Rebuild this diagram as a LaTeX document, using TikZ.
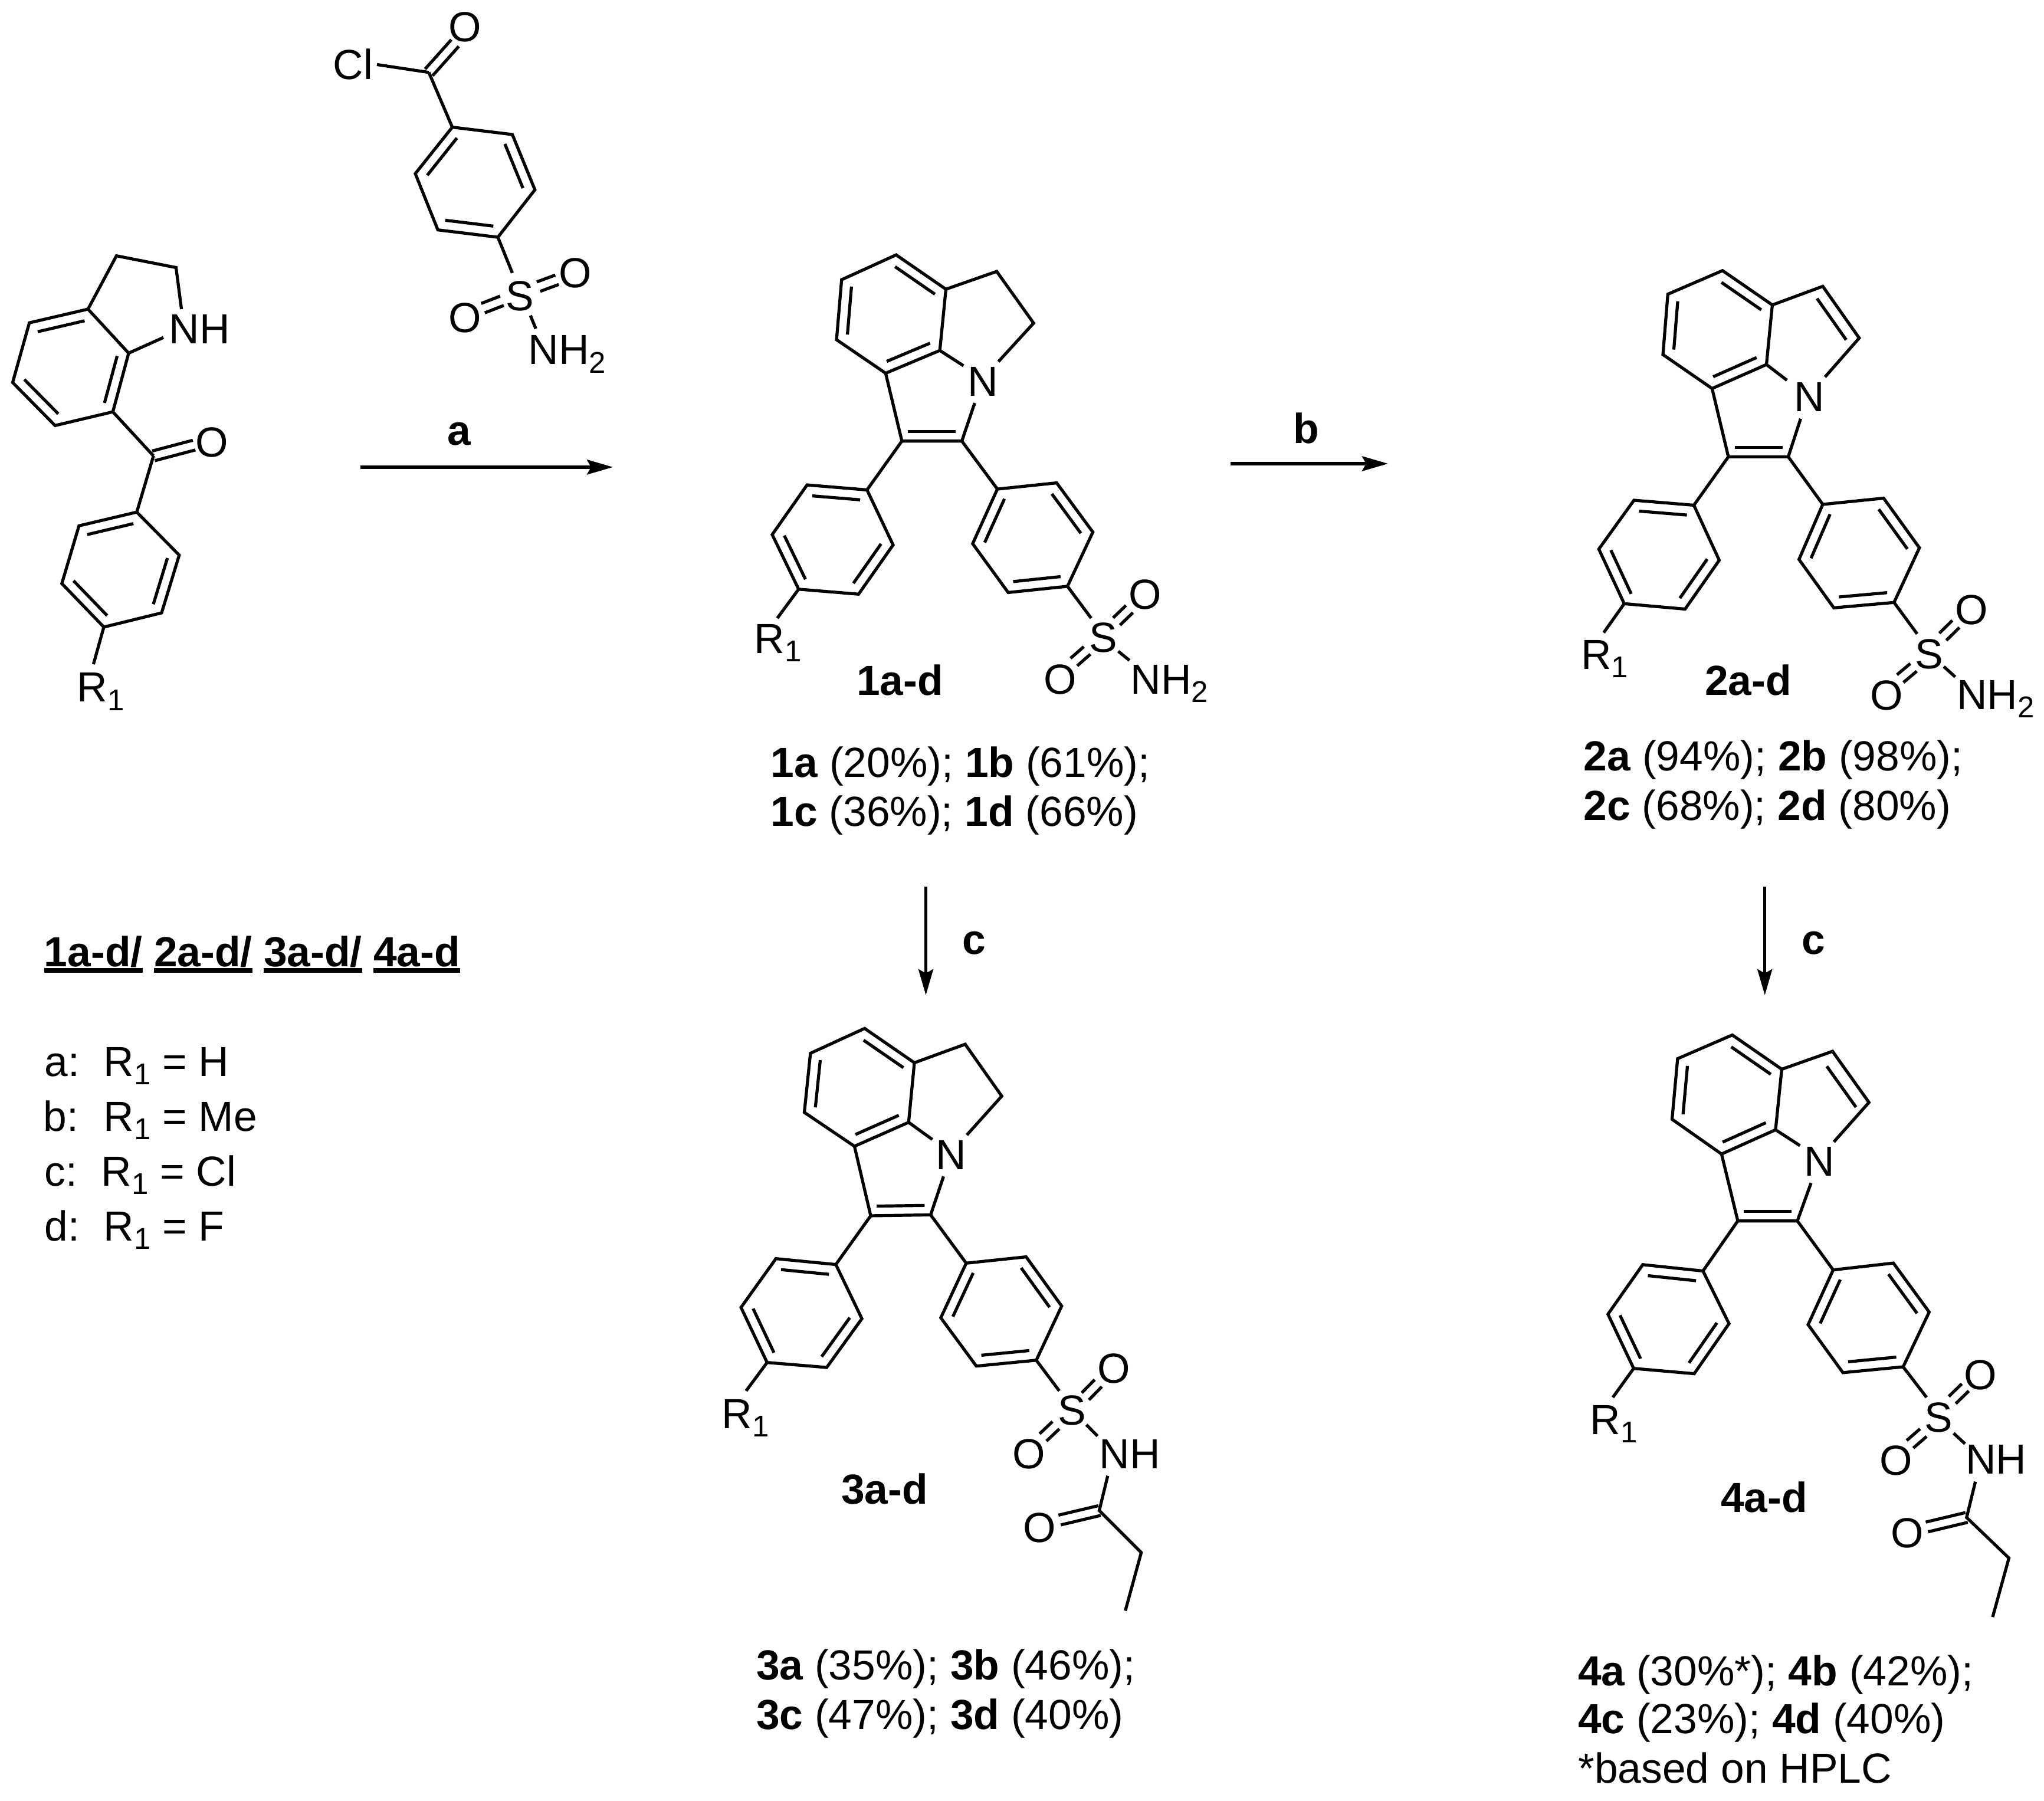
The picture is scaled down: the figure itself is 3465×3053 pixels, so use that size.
\documentclass[tikz,border=0pt]{standalone}
\usepackage{fontspec}
\setmainfont{Liberation Sans}
\usetikzlibrary{calc,arrows.meta}
\tikzset{
  bond/.style={line width=0.52mm,line join=miter,line cap=butt},
  rarrow/.style={line width=0.55mm,-{Stealth[length=4.4mm,width=2.5mm,inset=0.7mm]}},
  ulinebar/.style={line width=0.76mm},
  lb/.style={anchor=base west,inner sep=0pt,outer sep=0pt,xshift=-0.55mm,font=\fontsize{20.3}{24.4}\selectfont},
  hd/.style={anchor=base west,inner sep=0pt,outer sep=0pt,font=\fontsize{20.3}{24.4}\selectfont\bfseries},
  ctr/.style={anchor=center,inner sep=0pt,outer sep=0pt,font=\fontsize{20.3}{24.4}\selectfont},
  ctrb/.style={anchor=base,inner sep=0pt,outer sep=0pt,font=\fontsize{20.3}{24.4}\selectfont\bfseries},
}
\newcommand\sbs[1]{\raisebox{-4.1pt}{\fontsize{14.5}{15}\selectfont #1}}
% six-ring: name and vertices; double bonds a-b, c-d, e-f
\newcommand\sixring[7]{%
  \coordinate (#1a) at #2; \coordinate (#1b) at #3; \coordinate (#1c) at #4;
  \coordinate (#1d) at #5; \coordinate (#1e) at #6; \coordinate (#1f) at #7;
  \coordinate (#1o) at ($(#1a)!.5!(#1d)$);
  \draw[bond] (#1a)--(#1b)--(#1c)--(#1d)--(#1e)--(#1f)--cycle;
  \innerb{#1a}{#1b}{#1o}\innerb{#1c}{#1d}{#1o}\innerb{#1e}{#1f}{#1o}}
\newcommand\innerb[3]{\draw[bond] ($(#1)!.2!(#3)$) -- ($(#2)!.2!(#3)$);}
\newcommand\twin[3][0.85mm]{%
  \draw[bond] ($(#2)!#1!90:(#3)$) -- ($(#3)!#1!-90:(#2)$);
  \draw[bond] ($(#2)!#1!-90:(#3)$) -- ($(#3)!#1!90:(#2)$);}
\begin{document}
\begin{tikzpicture}[x=0.1mm,y=-0.1mm]
\fill[white] (0,0) rectangle (3465,3053);
\useasboundingbox (0,0) rectangle (3465,3053);

% ---------- starting materials and arrow a
\begin{scope}[shift={(0,0)},x=0.07653mm,y=-0.08291mm]
  \sixring{A}{(65,660)}{(195,632)}{(285,722)}{(250,842)}{(122,870)}{(28,782)}
  \coordinate (Ac1) at (258,523); \coordinate (Ac2) at (390,547); \coordinate (Anb) at (402,632);
  \coordinate (Anc) at (362,690);
  \draw[bond] (Ab)--(Ac1)--(Ac2)--(Anb);
  \draw[bond] (Ac)--(Anc);
  \node[lb] (ANH) at (382,703) {NH};
  \coordinate (Aco) at (340,932);
  \draw[bond] (Ad)--(Aco);
  \coordinate (Aoe) at (430,910);
  \twin{Aco}{Aoe}
  \node[ctr] (AO) at (470,905) {O};
  \sixring{B}{(303,1047)}{(175,1075)}{(137,1193)}{(230,1282)}{(358,1253)}{(397,1135)}
  \draw[bond] (Aco)--(Ba);
  \coordinate (Brr) at (207,1358);
  \draw[bond] (Bd)--(Brr);
  \node[lb] (BR) at (178,1435) {R\sbs{1}};
  % acid chloride
  \node[lb] (RCl) at (745,162) {Cl};
  \coordinate (Rcl) at (835,132); \coordinate (Rco) at (950,148); \coordinate (Roe) at (1008,88);
  \draw[bond] (Rcl)--(Rco);
  \twin{Rco}{Roe}
  \node[ctr] (RO) at (1030,55) {O};
  \sixring{R}{(920,355)}{(1002,260)}{(1135,275)}{(1185,388)}{(1103,485)}{(970,470)}
  \draw[bond] (Rco)--(Rb);
  \coordinate (Rs1) at (1135,558); \draw[bond] (Re)--(Rs1);
  \node[ctr] (RS) at (1152,605) {S};
  \coordinate (Rr1) at (1193,586); \coordinate (Rr2) at (1234,572); \twin{Rr1}{Rr2}
  \node[ctr] (RO1) at (1275,558) {O};
  \coordinate (Rl1) at (1070,630); \coordinate (Rl2) at (1112,615); \twin{Rl1}{Rl2}
  \node[ctr] (RO2) at (1030,650) {O};
  \coordinate (Rn1) at (1175,645); \coordinate (Rn2) at (1187,672); \draw[bond] (Rn1)--(Rn2);
  \node[lb] (RN) at (1178,745) {NH\sbs{2}};
  \coordinate (ar1) at (798,955); \coordinate (ar2) at (1358,955);
  \draw[rarrow] (ar1)--(ar2);
  \node[ctrb] (la) at (1017,910) {a};
\end{scope}

% ---------- compound 1
\begin{scope}[shift={(1200,350)},x=0.0574mm,y=-0.07015mm]
  \sixring{C}{(556,117)}{(703,200)}{(685,348)}{(525,403)}{(380,322)}{(395,177)}
  \coordinate (Cm1) at (853,157); \coordinate (Cm2) at (962,282); \coordinate (Cn1) at (858,375);
  \coordinate (Cn2) at (755,385); \coordinate (Cn3) at (788,475);
  \coordinate (C2) at (750,567); \coordinate (C3) at (573,567); \coordinate (Cp) at (660,450);
  \draw[bond] (Cb)--(Cm1)--(Cm2)--(Cn1);
  \draw[bond] (Cc)--(Cn2);
  \draw[bond] (Cn3)--(C2)--(C3)--(Cd);
  \innerb{C2}{C3}{Cp}
  \node[ctr] (CN) at (813,423) {N};
  \sixring{D}{(470,685)}{(293,673)}{(190,793)}{(268,925)}{(445,937)}{(547,818)}
  \sixring{E}{(782,815)}{(855,683)}{(1030,668)}{(1137,787)}{(1062,918)}{(887,933)}
  \draw[bond] (C3)--(Da); \draw[bond] (C2)--(Eb);
  \coordinate (Cs) at (1132,995); \draw[bond] (Ee)--(Cs);
  \node[ctr] (CS) at (1168,1042) {S};
  \coordinate (Ct1) at (1207,1003); \coordinate (Ct2) at (1245,973); \twin{Ct1}{Ct2}
  \node[ctr] (CO1) at (1292,938) {O};
  \coordinate (Ct3) at (1081,1101); \coordinate (Ct4) at (1120,1073); \twin{Ct3}{Ct4}
  \node[ctr] (CO2) at (1040,1143) {O};
  \coordinate (Ct5) at (1212,1075); \coordinate (Ct6) at (1245,1097); \draw[bond] (Ct5)--(Ct6);
  \node[lb] (CNH) at (1258,1178) {NH\sbs{2}};
  \coordinate (Cr) at (205,995); \draw[bond] (Dd)--(Cr);
  \node[lb] (CR) at (147,1080) {R\sbs{1}};
\end{scope}
\node[hd] (n1) at (1452,1178) {1a-d};
\node[lb] (y1a) at (1312,1317) {\textbf{1a} (20\%); \textbf{1b} (61\%);};
\node[lb] (y1b) at (1312,1400) {\textbf{1c} (36\%); \textbf{1d} (66\%)};

% ---------- compound 2
\begin{scope}[shift={(2600,350)},x=0.05517mm,y=-0.07015mm]
  \sixring{F}{(580,155)}{(733,238)}{(715,382)}{(548,440)}{(397,358)}{(412,212)}
  \coordinate (Fm1) at (888,193); \coordinate (Fm2) at (1000,318); \coordinate (Fn1) at (895,412);
  \coordinate (Fn2) at (778,420); \coordinate (Fn3) at (820,513);
  \coordinate (F2) at (782,605); \coordinate (F3) at (598,605); \coordinate (Fp) at (700,490);
  \coordinate (Fq) at (800,340);
  \draw[bond] (Fb)--(Fm1)--(Fm2)--(Fn1);
  \innerb{Fm1}{Fm2}{Fq}
  \draw[bond] (Fc)--(Fn2);
  \draw[bond] (Fn3)--(F2)--(F3)--(Fd);
  \innerb{F2}{F3}{Fp}
  \node[ctr] (FN) at (847,460) {N};
  \sixring{G}{(492,722)}{(308,710)}{(200,828)}{(278,960)}{(465,973)}{(570,855)}
  \sixring{H}{(815,853)}{(888,720)}{(1075,705)}{(1185,825)}{(1107,957)}{(922,970)}
  \draw[bond] (F3)--(Ga); \draw[bond] (F2)--(Hb);
  \coordinate (Fs) at (1178,1033); \draw[bond] (He)--(Fs);
  \node[ctr] (FS) at (1215,1082) {S};
  \coordinate (Ft1) at (1257,1040); \coordinate (Ft2) at (1297,1009); \twin{Ft1}{Ft2}
  \node[ctr] (FO1) at (1345,975) {O};
  \coordinate (Ft3) at (1126,1141); \coordinate (Ft4) at (1167,1114); \twin{Ft3}{Ft4}
  \node[ctr] (FO2) at (1085,1182) {O};
  \coordinate (Ft5) at (1260,1112); \coordinate (Ft6) at (1295,1137); \draw[bond] (Ft5)--(Ft6);
  \node[lb] (FNH) at (1310,1215) {NH\sbs{2}};
  \coordinate (Fr) at (215,1030); \draw[bond] (Gd)--(Fr);
  \node[lb] (FR) at (155,1118) {R\sbs{1}};
\end{scope}
\node[hd] (n2) at (2890,1178) {2a-d};
\node[lb] (y2a) at (2690,1306) {\textbf{2a} (94\%); \textbf{2b} (98\%);};
\node[lb] (y2b) at (2690,1390) {\textbf{2c} (68\%); \textbf{2d} (80\%)};

% ---------- compound 3
\begin{scope}[shift={(1150,1650)},x=0.0574mm,y=-0.07653mm]
  \sixring{I}{(550,122)}{(697,198)}{(680,330)}{(520,383)}{(372,308)}{(390,177)}
  \coordinate (Im1) at (847,157); \coordinate (Im2) at (955,272); \coordinate (In1) at (852,358);
  \coordinate (In2) at (750,368); \coordinate (In3) at (783,450);
  \coordinate (I2) at (745,535); \coordinate (I3) at (568,537); \coordinate (Ip) at (655,430);
  \draw[bond] (Ib)--(Im1)--(Im2)--(In1);
  \draw[bond] (Ic)--(In2);
  \draw[bond] (In3)--(I2)--(I3)--(Id);
  \innerb{I2}{I3}{Ip}
  \node[ctr] (IN) at (805,402) {N};
  \sixring{J}{(465,645)}{(288,632)}{(185,740)}{(262,862)}{(438,873)}{(542,765)}
  \sixring{K}{(775,763)}{(850,642)}{(1027,628)}{(1132,737)}{(1057,857)}{(880,870)}
  \draw[bond] (I3)--(Ja); \draw[bond] (I2)--(Kb);
  \coordinate (Is) at (1125,925); \draw[bond] (Ke)--(Is);
  \node[ctr] (IS) at (1162,968) {S};
  \coordinate (It1) at (1202,937); \coordinate (It2) at (1240,908); \twin{It1}{It2}
  \node[ctr] (IO1) at (1287,875) {O};
  \coordinate (It3) at (1077,1028); \coordinate (It4) at (1115,1001); \twin{It3}{It4}
  \node[ctr] (IO2) at (1035,1065) {O};
  \coordinate (It5) at (1205,1000); \coordinate (It6) at (1238,1025); \draw[bond] (It5)--(It6);
  \node[lb] (INH) at (1253,1097) {NH};
  \coordinate (Iu1) at (1268,1113); \coordinate (Iu2) at (1243,1190); \coordinate (Iu3) at (1126,1211);
  \coordinate (Iu4) at (1367,1283); \coordinate (Iu5) at (1320,1412);
  \draw[bond] (Iu1)--(Iu2)--(Iu4)--(Iu5);
  \coordinate (Iu6) at (1244,1190); \twin{Iu3}{Iu6}
  \node[ctr] (IO3) at (1067,1228) {O};
  \coordinate (Ir) at (200,925); \draw[bond] (Jd)--(Ir);
  \node[lb] (IR) at (138,1008) {R\sbs{1}};
\end{scope}
\node[hd] (n3) at (1426,2549) {3a-d};
\node[hd] (y3a) at (1282,2847) {3a \mdseries (35\%); \bfseries 3b \mdseries (46\%);};
\node[hd] (y3b) at (1282,2931) {3c \mdseries (47\%); \bfseries 3d \mdseries (40\%)};

% ---------- compound 4
\begin{scope}[shift={(2600,1650)},x=0.05517mm,y=-0.08929mm]
  \sixring{L}{(610,117)}{(762,182)}{(743,297)}{(577,343)}{(425,277)}{(442,162)}
  \coordinate (Lm1) at (918,148); \coordinate (Lm2) at (1030,245); \coordinate (Ln1) at (922,320);
  \coordinate (Ln2) at (818,327); \coordinate (Ln3) at (852,398);
  \coordinate (L2) at (810,470); \coordinate (L3) at (627,470); \coordinate (Lp) at (720,380);
  \coordinate (Lq) at (830,290);
  \draw[bond] (Lb)--(Lm1)--(Lm2)--(Ln1);
  \innerb{Lm1}{Lm2}{Lq}
  \draw[bond] (Lc)--(Ln2);
  \draw[bond] (Ln3)--(L2)--(L3)--(Ld);
  \innerb{L2}{L3}{Lp}
  \node[ctr] (LN) at (877,357) {N};
  \sixring{M}{(520,565)}{(335,553)}{(228,647)}{(307,750)}{(493,760)}{(600,665)}
  \sixring{P}{(843,667)}{(920,563)}{(1105,550)}{(1215,643)}{(1135,747)}{(950,758)}
  \draw[bond] (L3)--(Ma); \draw[bond] (L2)--(Pb);
  \coordinate (Ls) at (1207,805); \draw[bond] (Pe)--(Ls);
  \node[ctr] (LS) at (1243,843) {S};
  \coordinate (Lt1) at (1286,810); \coordinate (Lt2) at (1326,786); \twin{Lt1}{Lt2}
  \node[ctr] (LO1) at (1373,763) {O};
  \coordinate (Lt3) at (1156,894); \coordinate (Lt4) at (1197,872); \twin{Lt3}{Lt4}
  \node[ctr] (LO2) at (1113,925) {O};
  \coordinate (Lt5) at (1290,873); \coordinate (Lt6) at (1325,893); \draw[bond] (Lt5)--(Lt6);
  \node[lb] (LNH) at (1337,950) {NH};
  \coordinate (Lu1) at (1357,965); \coordinate (Lu2) at (1330,1033); \coordinate (Lu3) at (1208,1051);
  \coordinate (Lu4) at (1460,1110); \coordinate (Lu5) at (1410,1222);
  \draw[bond] (Lu1)--(Lu2)--(Lu4)--(Lu5);
  \twin{Lu3}{Lu2}
  \node[ctr] (LO3) at (1148,1063) {O};
  \coordinate (Lr) at (243,805); \draw[bond] (Md)--(Lr);
  \node[lb] (LR) at (183,875) {R\sbs{1}};
\end{scope}
\node[hd] (n4) at (2917,2563) {4a-d};
\node[hd] (y4a) at (2675,2857) {4a \mdseries (30\%*); \bfseries 4b \mdseries (42\%);};
\node[hd] (y4b) at (2675,2938) {4c \mdseries (23\%); \bfseries 4d \mdseries (40\%)};
\node[lb] (y4c) at (2681,3022) {*based on HPLC};

% ---------- arrows b, c, c
\coordinate (br1) at (2086,786); \coordinate (br2) at (2353,786);
\draw[rarrow] (br1)--(br2);
\node[ctrb] (lb1) at (2214,751) {b};
\coordinate (cr1) at (1569.5,1503); \coordinate (cr2) at (1569.5,1687);
\draw[rarrow] (cr1)--(cr2);
\node[ctrb] (lc1) at (1651,1617) {c};
\coordinate (dr1) at (2991.7,1503); \coordinate (dr2) at (2991.7,1687);
\draw[rarrow] (dr1)--(dr2);
\node[ctrb] (lc2) at (3074,1617) {c};

% ---------- legend
\node[hd] (h1) at (75,1638) {1a-d/};
\node[hd] (h2) at (261,1638) {2a-d/};
\node[hd] (h3) at (447,1638) {3a-d/};
\node[hd] (h4) at (633,1638) {4a-d};
\draw[ulinebar] (75,1645)--(242,1645);
\draw[ulinebar] (261,1645)--(428,1645);
\draw[ulinebar] (447,1645)--(614,1645);
\draw[ulinebar] (633,1645)--(780,1645);
\node[lb] (la1) at (81,1824) {a:};
\node[lb] (la2) at (181,1824) {R\sbs{1} = H};
\node[lb] (lb2) at (79,1917) {b:};
\node[lb] (lb3) at (181,1917) {R\sbs{1} = Me};
\node[lb] (lc3) at (81,2010) {c:};
\node[lb] (lc4) at (177,2010) {R\sbs{1} = Cl};
\node[lb] (ld1) at (81,2103) {d:};
\node[lb] (ld2) at (181,2103) {R\sbs{1} = F};
\end{tikzpicture}
\end{document}
